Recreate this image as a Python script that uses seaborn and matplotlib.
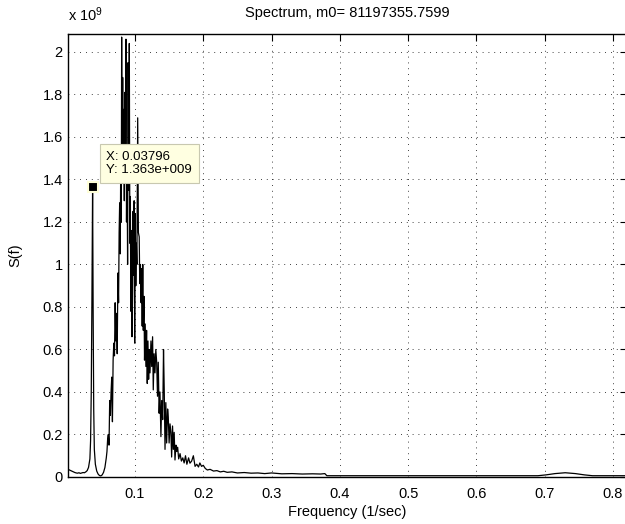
import matplotlib
matplotlib.use("Agg")
import matplotlib.pyplot as plt
import numpy as np
import pandas as pd
import seaborn as sns
from matplotlib.ticker import FuncFormatter, MultipleLocator

# spectrum; values in units of 1e9
freq = [
    0.0024, 0.004, 0.006, 0.008, 0.010, 0.012, 0.014, 0.016, 0.018, 0.020,
    0.022, 0.024, 0.026, 0.028, 0.030, 0.032, 0.034, 0.035, 0.036, 0.037,
    0.03796, 0.0388, 0.0396, 0.0405, 0.042, 0.044, 0.046, 0.048, 0.050, 0.052,
    0.054, 0.056, 0.058, 0.059, 0.060, 0.061, 0.062, 0.063, 0.064, 0.065,
    0.066, 0.067, 0.068, 0.069, 0.070, 0.071, 0.072, 0.073, 0.074, 0.075,
    0.076, 0.0768, 0.0776, 0.0784, 0.0792, 0.080, 0.0805, 0.0812, 0.082, 0.0828,
    0.0836, 0.0844, 0.0852, 0.086, 0.0868, 0.0876, 0.0884, 0.0892, 0.090, 0.0908,
    0.0917, 0.0925, 0.0932, 0.094, 0.0948, 0.0956, 0.0964, 0.0972, 0.098, 0.0988,
    0.0996, 0.1004, 0.1012, 0.1020, 0.1028, 0.1040, 0.1050, 0.1062, 0.1070, 0.1080,
    0.1090, 0.1098, 0.1106, 0.1114, 0.1122, 0.1132, 0.1140, 0.1150, 0.1160, 0.1170,
    0.1180, 0.1190, 0.1200, 0.1210, 0.1220, 0.1234, 0.1245, 0.1258, 0.1268, 0.1280,
    0.1293, 0.1305, 0.1318, 0.1330, 0.1341, 0.1354, 0.1366, 0.1380, 0.1391, 0.1406,
    0.1418, 0.1429, 0.1440, 0.1452, 0.1464, 0.1478, 0.1488, 0.1500, 0.1513, 0.1526,
    0.1537, 0.1550, 0.1562, 0.1574, 0.1586, 0.1600, 0.1612, 0.1625, 0.1640, 0.1660,
    0.1680, 0.1700, 0.1720, 0.1740, 0.1760, 0.1785, 0.1805, 0.1830, 0.1855, 0.1880,
    0.1905, 0.1930, 0.1950, 0.1975, 0.2000, 0.2030, 0.2060, 0.2100, 0.2150, 0.2200,
    0.2250, 0.2300, 0.2350, 0.2420, 0.2500, 0.2600, 0.2700, 0.2800, 0.2900, 0.3000,
    0.3150, 0.3300, 0.3450, 0.3600, 0.3720, 0.3780, 0.3810, 0.4200, 0.5000, 0.6000,
    0.6900, 0.7020, 0.7150, 0.7300, 0.7450, 0.7580, 0.7700, 0.8200,
]
s_e9 = [
    0.036, 0.033, 0.030, 0.027, 0.024, 0.021, 0.019, 0.018, 0.020, 0.017,
    0.019, 0.021, 0.020, 0.024, 0.030, 0.045, 0.085, 0.17, 0.40, 0.85,
    1.363, 0.75, 0.32, 0.13, 0.06, 0.028, 0.014, 0.007, 0.005, 0.010,
    0.022, 0.045, 0.09, 0.12, 0.18, 0.20, 0.15, 0.36, 0.29, 0.40,
    0.47, 0.26, 0.55, 0.63, 0.57, 0.82, 0.64, 0.77, 0.58, 0.96,
    0.82, 1.15, 1.29, 1.05, 1.50, 1.20, 2.07, 1.40, 1.88, 1.48,
    1.73, 1.30, 1.81, 1.55, 2.06, 1.20, 1.54, 1.00, 1.95, 1.35,
    2.04, 1.10, 1.32, 0.78, 1.16, 0.66, 0.85, 1.25, 0.95, 1.30,
    0.63, 1.24, 0.90, 1.10, 1.00, 1.69, 1.15, 1.13, 0.91, 1.00,
    0.82, 0.98, 0.71, 1.00, 0.69, 0.85, 0.55, 0.72, 0.52, 0.69,
    0.44, 0.64, 0.46, 0.60, 0.49, 0.64, 0.52, 0.66, 0.41, 0.58,
    0.49, 0.60, 0.54, 0.38, 0.54, 0.30, 0.40, 0.19, 0.36, 0.27,
    0.60, 0.40, 0.13, 0.35, 0.16, 0.32, 0.28, 0.16, 0.25, 0.21,
    0.094, 0.24, 0.13, 0.21, 0.08, 0.15, 0.12, 0.14, 0.085, 0.11,
    0.075, 0.09, 0.066, 0.10, 0.06, 0.09, 0.065, 0.075, 0.10, 0.05,
    0.06, 0.047, 0.066, 0.05, 0.055, 0.04, 0.033, 0.036, 0.028, 0.030,
    0.024, 0.027, 0.022, 0.024, 0.019, 0.021, 0.018, 0.019, 0.016, 0.019,
    0.015, 0.016, 0.014, 0.015, 0.014, 0.016, 0.006, 0.006, 0.006, 0.006,
    0.006, 0.010, 0.016, 0.020, 0.016, 0.010, 0.006, 0.006,
]

tip_x = 0.03796
tip_y = 1.363
title = "Spectrum, m0= 81197355.7599"

df = pd.DataFrame({"f": freq, "s": s_e9})

sns.set_style("white")
plt.rcParams["font.family"] = ["Liberation Sans", "DejaVu Sans"]
plt.rcParams["mathtext.default"] = "regular"
plt.rcParams["text.color"] = "black"
plt.rcParams["axes.labelcolor"] = "black"
plt.rcParams["xtick.color"] = "black"
plt.rcParams["ytick.color"] = "black"

fig = plt.figure(figsize=(6.25, 5.24), dpi=100)
ax = fig.add_axes([0.1093, 0.0897, 0.8934, 0.846])

sns.lineplot(data=df, x="f", y="s", ax=ax, color="black", linewidth=0.9,
             estimator=None, sort=False)

ax.set_xlim(0.0024, 0.82)
ax.set_ylim(0, 2.086)
ax.xaxis.set_major_locator(MultipleLocator(0.1))
ax.yaxis.set_major_locator(MultipleLocator(0.2))
ax.yaxis.set_major_formatter(FuncFormatter(lambda v, p: "%g" % round(v, 2)))
ax.xaxis.set_major_formatter(FuncFormatter(lambda v, p: "%g" % round(v, 2)))

ax.grid(True, color="black", linestyle=(0, (1, 6)), linewidth=0.6)
ax.tick_params(direction="in", top=True, right=True, length=5, width=0.8,
               labelsize=10.5, colors="black")
ax.tick_params(axis="x", pad=7)
ax.tick_params(axis="y", pad=4)
for sp in ax.spines.values():
    sp.set_color("black")
    sp.set_linewidth(1.0)

ax.set_xlabel("Frequency (1/sec)", fontsize=10.5, labelpad=3)
ax.set_ylabel("S(f)", fontsize=10.5)
ax.yaxis.set_label_coords(-0.083, 0.5)
ax.set_title(title, fontsize=10.5, pad=12)

fig.text(0.109, 1 - 21 / 524, r"x 10$^{9}$", fontsize=10.5, ha="left", va="baseline")

# data tip
ax.plot([tip_x], [tip_y], marker="s", markersize=7, color="black",
        markeredgecolor="#ffffd8", markeredgewidth=1.5, zorder=5)
ax.annotate("X: %.5f\nY: 1.363e+009" % tip_x, xy=(tip_x, tip_y),
            xytext=(10, 8), textcoords="offset points", fontsize=9.5,
            ha="left", va="bottom", linespacing=1.15,
            bbox=dict(boxstyle="square,pad=0.5", facecolor="#ffffe1",
                      edgecolor="#c8c8b0", linewidth=0.8), zorder=6)

fig.savefig("out.png", dpi=100)
